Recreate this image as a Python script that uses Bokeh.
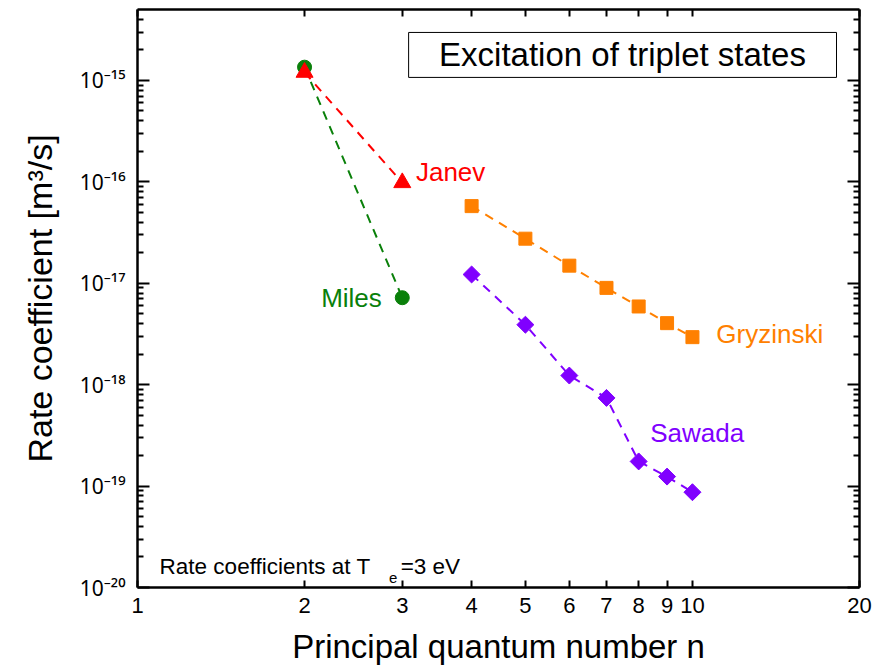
from bokeh.plotting import figure
from bokeh.models import LogAxis, FixedTicker, CustomJSTickFormatter, Label, BoxAnnotation
from bokeh.embed import file_html
from bokeh.resources import INLINE

# ---- data ----
n_miles = [2, 3]
k_miles = [1.35e-15, 7.2e-18]
n_janev = [2, 3]
k_janev = [1.2e-15, 9.8e-17]
n_gryz = [4, 5, 6, 7, 8, 9, 10]
k_gryz = [5.76e-17, 2.75e-17, 1.49e-17, 9.0e-18, 5.9e-18, 4.04e-18, 2.94e-18]
n_sawada = [4, 5, 6, 7, 8, 9, 10]
k_sawada = [1.22e-17, 3.9e-18, 1.23e-18, 7.4e-19, 1.75e-19, 1.24e-19, 8.7e-20]

x_ticks = [1, 2, 3, 4, 5, 6, 7, 8, 9, 10, 20]
y_decades = [-20, -19, -18, -17, -16, -15]

FONT = "Liberation Sans"
GREEN = "#0a800a"
RED = "#ff0000"
ORANGE = "#ff8000"
PURPLE = "#8000ff"

p = figure(width=888, height=670, x_axis_type="log", y_axis_type="log",
           x_range=(1, 20), y_range=(1e-20, 5e-15),
           output_backend="svg", toolbar_location=None,
           min_border_left=137, min_border_right=29, min_border_top=9, min_border_bottom=83)
p.xgrid.visible = False
p.ygrid.visible = False
p.outline_line_color = None
p.background_fill_color = "white"
p.border_fill_color = "white"

y_major = [10.0 ** d for d in y_decades]
y_minor = [k * 10.0 ** d for d in y_decades for k in range(2, 10) if k * 10.0 ** d <= 5e-15]
xt = FixedTicker(ticks=x_ticks, minor_ticks=[])
yt = FixedTicker(ticks=y_major, minor_ticks=y_minor)

yfmt = CustomJSTickFormatter(code="""
const sup = {"-":"\u207b","0":"\u2070","1":"\u00b9","2":"\u00b2","3":"\u00b3","4":"\u2074","5":"\u2075","6":"\u2076","7":"\u2077","8":"\u2078","9":"\u2079"};
const e = Math.round(Math.log10(tick));
return "10" + String(e).split("").map(c => sup[c]).join("");
""")
xfmt = CustomJSTickFormatter(code="return String(Math.round(tick));")

def style_axis(ax, ticker, labels=True, major_in=12):
    ax.ticker = ticker
    ax.axis_line_width = 2.5
    ax.axis_line_color = "black"
    ax.major_tick_line_width = 2
    ax.minor_tick_line_width = 2
    ax.major_tick_in = major_in
    ax.major_tick_out = 0
    ax.minor_tick_in = 6
    ax.minor_tick_out = 0
    ax.major_label_text_color = "black"
    ax.axis_label_text_color = "black"
    if not labels:
        ax.formatter = CustomJSTickFormatter(code="return '';")
        ax.major_label_standoff = 0
        ax.axis_label_standoff = 0

xa = p.xaxis[0]
style_axis(xa, xt, major_in=7)
xa.formatter = xfmt
xa.major_label_text_font = FONT
xa.major_label_text_font_size = "22px"
xa.major_label_standoff = 10
xa.axis_label = "Principal quantum number n"
xa.axis_label_text_font = FONT
xa.axis_label_text_font_size = "33px"
xa.axis_label_text_font_style = "normal"
xa.axis_label_standoff = 12

ya = p.yaxis[0]
style_axis(ya, yt)
ya.formatter = yfmt
ya.major_label_text_font = "Noto Sans"
ya.major_label_text_font_size = "21px"
ya.major_label_standoff = 12
ya.axis_label = "Rate coefficient [m\u00b3/s]"
ya.axis_label_text_font = FONT
ya.axis_label_text_font_size = "34px"
ya.axis_label_text_font_style = "normal"
ya.axis_label_standoff = 18

top = LogAxis()
style_axis(top, FixedTicker(ticks=x_ticks, minor_ticks=[]), labels=False, major_in=7)
p.add_layout(top, "above")
right = LogAxis()
style_axis(right, FixedTicker(ticks=y_major, minor_ticks=y_minor), labels=False)
p.add_layout(right, "right")

# ---- series ----
p.line(n_miles, k_miles, line_color=GREEN, line_width=2, line_dash="9 7")
p.scatter(n_miles, k_miles, marker="circle", size=14, fill_color=GREEN, line_color=GREEN)
p.line(n_janev, k_janev, line_color=RED, line_width=2, line_dash="9 7")
p.scatter(n_janev, k_janev, marker="triangle", size=17, fill_color=RED, line_color=RED)
p.line(n_gryz, k_gryz, line_color=ORANGE, line_width=2, line_dash="9 7")
p.scatter(n_gryz, k_gryz, marker="square", size=13, fill_color=ORANGE, line_color=ORANGE)
p.line(n_sawada, k_sawada, line_color=PURPLE, line_width=2, line_dash="9 7")
p.scatter(n_sawada, k_sawada, marker="square", angle=0.7854, size=12, fill_color=PURPLE, line_color=PURPLE)

# ---- annotations ----
p.add_layout(BoxAnnotation(left=3.08, right=18.18, bottom=1.07e-15, top=2.97e-15,
                           fill_color="white", fill_alpha=1.0, line_color="black", line_width=1,
                           line_alpha=1.0))
p.add_layout(Label(x=7.48, y=1.785e-15, text="Excitation of triplet states", text_align="center",
                   text_baseline="middle", text_font=FONT, text_font_size="33px", text_color="black"))

def lab(x, y, t, color, align="left", size="26px", baseline="middle"):
    p.add_layout(Label(x=x, y=y, text=t, text_color=color, text_align=align, text_baseline=baseline,
                       text_font=FONT, text_font_size=size))

lab(3.175, 1.24e-16, "Janev", RED)
lab(2.756, 7.2e-18, "Miles", GREEN, align="right")
lab(11.04, 3.13e-18, "Gryzinski", ORANGE)
lab(8.39, 3.3e-19, "Sawada", PURPLE)

lab(1.096, 1.61e-20, "Rate coefficients at T", "black", size="22.5px", baseline="alphabetic")
lab(2.84, 1.227e-20, "e", "black", size="15px", baseline="alphabetic")
lab(2.98, 1.61e-20, "=3 eV", "black", size="22.5px", baseline="alphabetic")

open("out.html", "w").write(file_html(p, INLINE))
